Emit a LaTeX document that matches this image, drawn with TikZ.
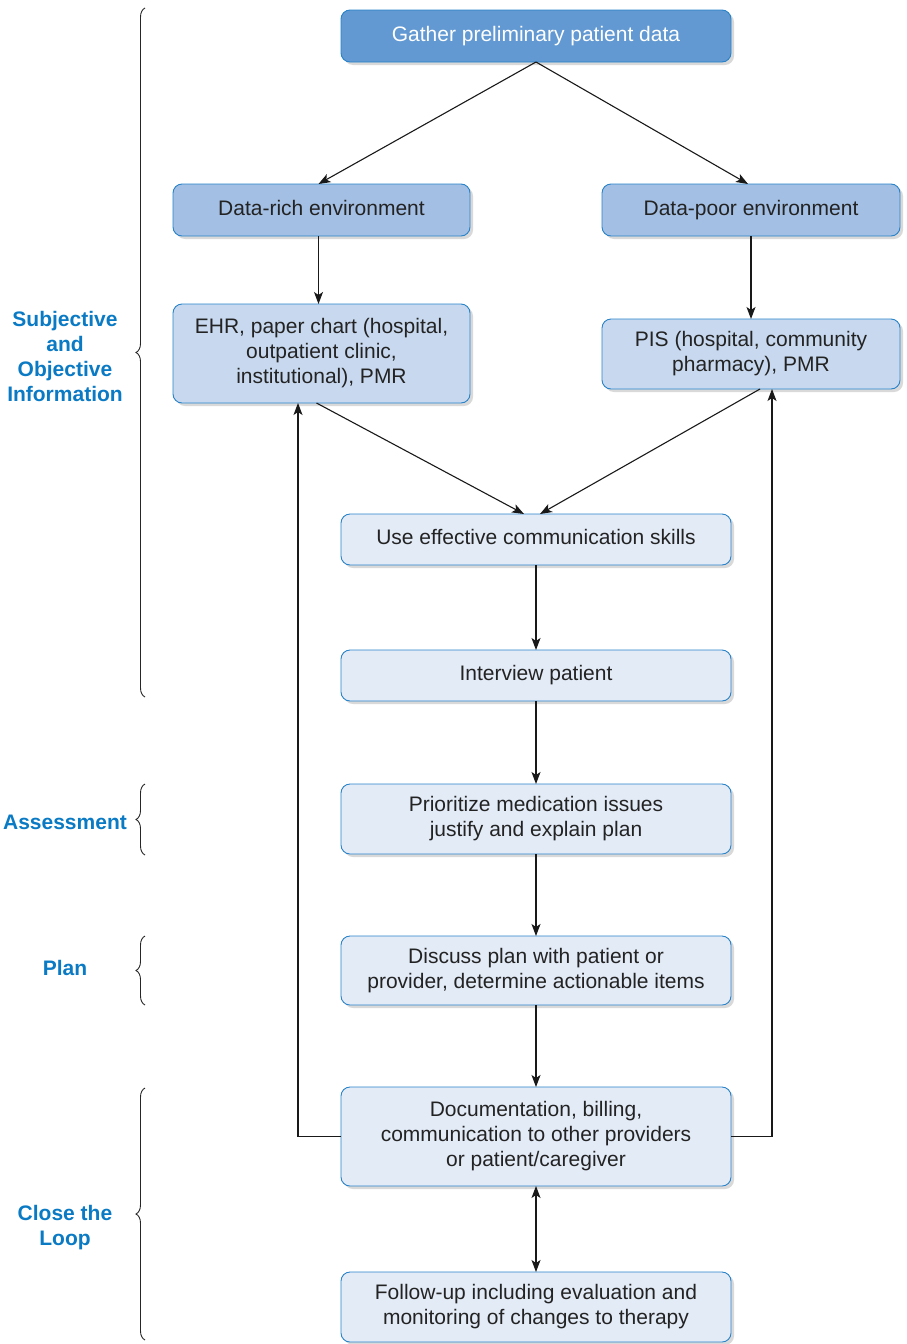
\documentclass[tikz,border=0pt]{standalone}
\usepackage{fontspec}
\setmainfont{Liberation Sans}
\usetikzlibrary{arrows.meta,shadows,decorations.pathreplacing,calc}
\definecolor{bdr}{RGB}{40,130,200}
\definecolor{fA}{RGB}{98,153,210}
\definecolor{fB}{RGB}{163,191,227}
\definecolor{fC}{RGB}{200,217,239}
\definecolor{fD}{RGB}{227,235,247}
\definecolor{lbl}{RGB}{10,122,196}
\definecolor{txt}{RGB}{35,35,35}
\begin{document}
\begin{tikzpicture}[x=1pt,y=-1pt,
  box/.style={draw=bdr,line width=0.9pt,rounded corners=9pt,align=center,
    font=\fontsize{21}{25}\selectfont,text=txt,inner sep=2pt,outer sep=0pt,
    drop shadow={shadow xshift=3pt,shadow yshift=-3pt,opacity=0.25,fill=black!60}},
  conn/.style={draw=black!90,line width=1.1pt,-{Stealth[length=12pt,width=9pt,inset=3pt]}},
  brc/.style={draw=black!85,line width=0.9pt,decorate,decoration={brace,amplitude=9pt}},
  side/.style={text=lbl,font=\fontsize{21}{25}\selectfont\bfseries,align=center}]
\useasboundingbox (0,0) rectangle (907,1344);
\node[box,fill=fA,text=white,minimum width=390pt,minimum height=52pt] (top) at (536,36) {Gather preliminary patient data};
\node[box,fill=fB,minimum width=297pt,minimum height=52pt] (rich) at (321.5,210) {Data-rich environment\vphantom{p}};
\node[box,fill=fB,minimum width=298pt,minimum height=52pt] (poor) at (751,210) {Data-poor environment};
\node[box,fill=fC,minimum width=297pt,minimum height=99pt] (ehr) at (321.5,353.5) {EHR, paper chart (hospital,\\outpatient clinic,\\institutional), PMR};
\node[box,fill=fC,minimum width=298pt,minimum height=70pt] (pis) at (751,354) {PIS (hospital, community\\pharmacy), PMR};
\node[box,fill=fD,minimum width=390pt,minimum height=51pt] (use) at (536,539.5) {Use effective communication skills\vphantom{p}};
\node[box,fill=fD,minimum width=390pt,minimum height=51pt] (int) at (536,675.5) {Interview patient};
\node[box,fill=fD,minimum width=390pt,minimum height=70pt] (pri) at (536,819) {Prioritize medication issues\\justify and explain plan};
\node[box,fill=fD,minimum width=390pt,minimum height=69pt] (dis) at (536,970.5) {Discuss plan with patient or\\provider, determine actionable items};
\node[box,fill=fD,minimum width=390pt,minimum height=99pt] (doc) at (536,1136.5) {Documentation, billing,\\communication to other providers\\or patient/caregiver};
\node[box,fill=fD,minimum width=390pt,minimum height=70pt] (fol) at (536,1307) {Follow-up including evaluation and\\monitoring of changes to therapy};

\draw[conn] (top.south) -- ([xshift=-3pt]rich.north);
\draw[conn] (top.south) -- ([xshift=-3pt]poor.north);
\draw[conn] ([xshift=-3pt]rich.south) -- ([xshift=-3pt]ehr.north);
\draw[conn] (poor.south) -- (pis.north);
\draw[conn] ([xshift=-5pt]ehr.south) -- ([xshift=-12pt]use.north);
\draw[conn] ([xshift=9pt]pis.south) -- ([xshift=4pt]use.north);
\draw[conn] (use.south) -- (int.north);
\draw[conn] (int.south) -- (pri.north);
\draw[conn] (pri.south) -- (dis.north);
\draw[conn] (dis.south) -- (doc.north);
\draw[conn] (doc.west) -| ([xshift=-23.5pt]ehr.south);
\draw[conn] (doc.east) -| ([xshift=21pt]pis.south);
\draw[conn,{Stealth[length=12pt,width=9pt,inset=3pt]}-{Stealth[length=12pt,width=9pt,inset=3pt]}] (doc.south) -- (fol.north);

\draw[brc] (145,697) -- (145,8);
\draw[brc] (145,855) -- (145,784);
\draw[brc] (145,1005) -- (145,936);
\draw[brc] (145,1340) -- (145,1088);

\node[side] (l1) at (65,356) {Subjective\\and\\Objective\\Information};
\node[side] (l2) at (65,822) {Assessment};
\node[side] (l3) at (65,968) {Plan};
\node[side] (l4) at (65,1228) {Close the\\Loop};
\end{tikzpicture}
\end{document}
